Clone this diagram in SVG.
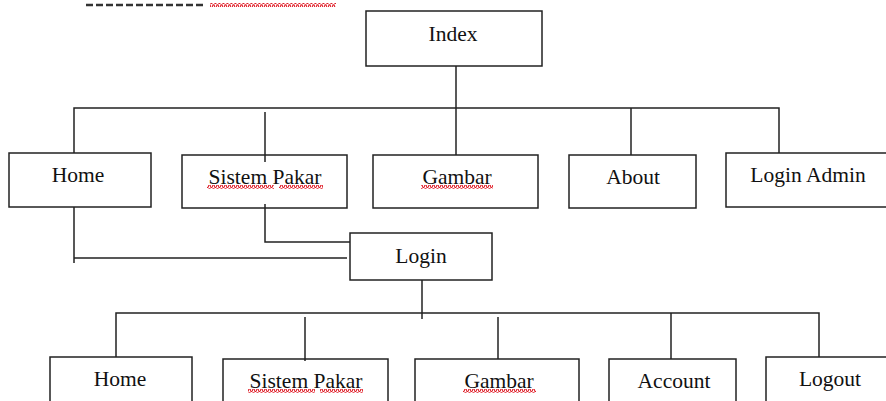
<svg xmlns="http://www.w3.org/2000/svg" width="886" height="401" viewBox="0 0 886 401">
<defs>
<pattern id="wave" x="0" y="0" width="4" height="4" patternUnits="userSpaceOnUse">
<path d="M0 3.5 L1 0.8 L2 0.8 L3 3.5 L4 3.5" fill="none" stroke="#e0202a" stroke-width="1.1"/>
</pattern>
</defs>
<style>
.box{fill:#fff;stroke:#222;stroke-width:1.5}
.ln{fill:none;stroke:#222;stroke-width:1.5}
.t{font-family:"Liberation Serif","Times New Roman",serif;font-size:21.5px;fill:#111;text-anchor:middle}
.sq{fill:url(#wave)}
</style>
<rect width="886" height="401" fill="#fff"/>
<g id="top-fragment">
<line x1="86" y1="5" x2="205" y2="5" stroke="#333" stroke-width="2.5" stroke-dasharray="7,3"/>
<rect class="sq" x="210" y="3" width="126" height="4"/>
</g>
<g id="index"><rect class="box" x="366" y="11" width="176" height="55"/><text class="t" x="453" y="41">Index</text></g>
<g id="home"><rect class="box" x="9" y="153" width="142" height="54"/><text class="t" x="78" y="182">Home</text></g>
<g id="sistem-pakar"><rect class="box" x="182" y="155" width="165" height="53"/><text class="t" x="265" y="184">Sistem Pakar</text><rect class="sq" x="207" y="185" width="67" height="4"/><rect class="sq" x="279" y="185" width="44" height="4"/></g>
<g id="gambar"><rect class="box" x="373" y="155" width="165" height="53"/><text class="t" x="457" y="184">Gambar</text><rect class="sq" x="421" y="185" width="72" height="4"/></g>
<g id="about"><rect class="box" x="569" y="155" width="127" height="53"/><text class="t" x="633" y="184">About</text></g>
<g id="login-admin"><rect class="box" x="726" y="153" width="165" height="54"/><text class="t" x="808" y="182">Login Admin</text></g>
<g id="login"><rect class="box" x="350" y="233" width="142" height="47"/><text class="t" x="421" y="263">Login</text></g>
<g id="home2"><rect class="box" x="50" y="357" width="142" height="60"/><text class="t" x="120" y="386">Home</text></g>
<g id="sistem-pakar2"><rect class="box" x="223" y="359" width="165" height="60"/><text class="t" x="306" y="388">Sistem Pakar</text><rect class="sq" x="248" y="389" width="67" height="4"/><rect class="sq" x="320" y="389" width="43" height="4"/></g>
<g id="gambar2"><rect class="box" x="415" y="359" width="164" height="60"/><text class="t" x="499" y="388">Gambar</text><rect class="sq" x="463" y="389" width="73" height="4"/></g>
<g id="account"><rect class="box" x="609" y="359" width="127" height="60"/><text class="t" x="674" y="388">Account</text></g>
<g id="logout"><rect class="box" x="766" y="357" width="130" height="60"/><text class="t" x="830" y="386">Logout</text></g>
<g id="connectors">
<path class="ln" d="M456 66 V155"/>
<path class="ln" d="M74 153 V108 H779 V153"/>
<path class="ln" d="M265 112 V162"/>
<path class="ln" d="M631 108 V155"/>
<path class="ln" d="M74 207 V263 M74 258 H347"/>
<path class="ln" d="M265 204 V242 H350"/>
<path class="ln" d="M422 280 V319"/>
<path class="ln" d="M116 357 V313 H819 V357"/>
<path class="ln" d="M305 317 V361"/>
<path class="ln" d="M498 317 V359"/>
<path class="ln" d="M671 313 V359"/>
</g>
</svg>
